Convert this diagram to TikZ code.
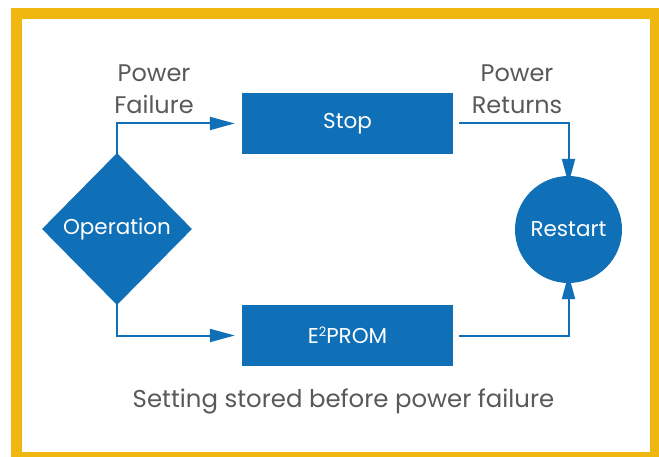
\documentclass[tikz,border=0pt]{standalone}
\usepackage{fontspec}
\setmainfont{Poppins}
\usepackage{tikz}
\usetikzlibrary{arrows.meta,calc,positioning,shapes.geometric}
\definecolor{ctrlblue}{HTML}{0F6FB7}
\definecolor{frameyellow}{HTML}{EFB70F}
\definecolor{labelgray}{HTML}{595959}
\tikzset{
  stage/.style={fill=ctrlblue, text=white, minimum width=211pt, minimum height=61pt, inner sep=0pt, font=\fontsize{21.5}{24}\selectfont},
  decision/.style={diamond, fill=ctrlblue, text=white, minimum width=150pt, minimum height=152pt, inner sep=0pt, font=\fontsize{21.5}{24}\selectfont},
  target/.style={circle, fill=ctrlblue, text=white, minimum size=107pt, inner sep=0pt, font=\fontsize{21.5}{24}\selectfont},
  caption/.style={text=labelgray, align=center, inner sep=0pt, font=\fontsize{24}{32}\selectfont},
  flow/.style={-{Triangle[length=25pt, width=13pt]}, line width=2pt, ctrlblue}
}
\newcommand{\sqsup}{\raisebox{0.55ex}{\fontsize{13}{13}\selectfont 2}}

\begin{document}
\begin{tikzpicture}[x=1pt, y=-1pt]
  \useasboundingbox (0,0) rectangle (659,457);
  % frame
  \fill[frameyellow] (11,8) rectangle (659,457);
  \fill[white] (22,19) rectangle (650,452);

  \node[decision] (op) at (117,229) {Operation};
  \node[stage] (stop) at (347.5,123.5) {Stop};
  \node[stage] (eprom) at (347.5,335.5) {E\sqsup PROM};
  \node[target] (restart) at (568.5,229.5) {Restart};

  \node[caption] (fail) at (154,89) {Power\\Failure};
  \node[caption] (ret) at (517,89) {Power\\Returns};
  \node[caption, font=\fontsize{24.4}{28}\selectfont] (note) at (343.5,401) {Setting stored before power failure};

  \draw[flow] ([yshift=-6]op.north) |- ([xshift=-7]stop.west);
  \draw[flow] ([yshift=8]op.south) |- ([xshift=-7]eprom.west);
  \draw[flow] ([xshift=6]stop.east) -| ([yshift=-8]restart.north);
  \draw[flow] ([xshift=6]eprom.east) -| ([yshift=9]restart.south);
\end{tikzpicture}
\end{document}
